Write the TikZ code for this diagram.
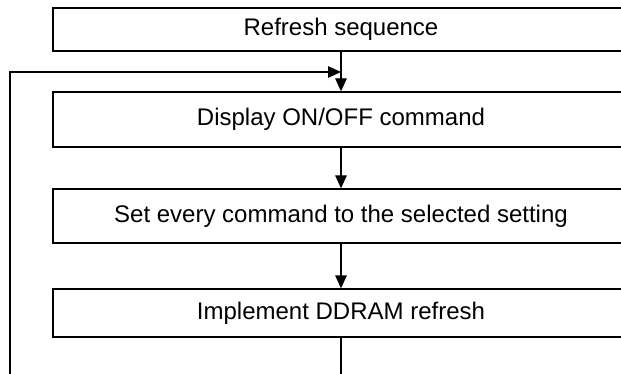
\documentclass[tikz,border=0pt]{standalone}
\usepackage{fontspec}
\setmainfont{Liberation Sans}
\usetikzlibrary{arrows.meta}

\begin{document}
\begin{tikzpicture}[x=1pt, y=-1pt,
    stepbox/.style={draw, rectangle, minimum width=576pt, line width=1.3pt,
      inner sep=0pt, font=\fontsize{24}{28}\selectfont},
    flow/.style={line width=1.3pt, -{Triangle[length=13pt,width=11.5pt]}}]
        \clip (0,0) rectangle (621,374);
        \node[stepbox, line width=2.8pt, minimum height=43pt] (refresh) at (341, 29.5) {Refresh sequence};
        \node[stepbox, minimum height=55pt] (display) at (341, 119.5) {Display ON/OFF command};
        \node[stepbox, minimum height=54pt] (setcmd) at (341, 216) {Set every command to the selected setting};
        \node[stepbox, minimum height=48pt] (ddram) at (341, 313) {Implement DDRAM refresh};
        \coordinate (join) at (341, 72);
        \coordinate (loopleft) at (10, 72);
        \draw[flow] (refresh) -- (display);
        \draw[flow] (display) -- (setcmd);
        \draw[flow] (setcmd) -- (ddram);
        \draw[flow] (ddram.south) -- ++(0, 80) -| (loopleft) -- (join);
      \end{tikzpicture}
\end{document}
